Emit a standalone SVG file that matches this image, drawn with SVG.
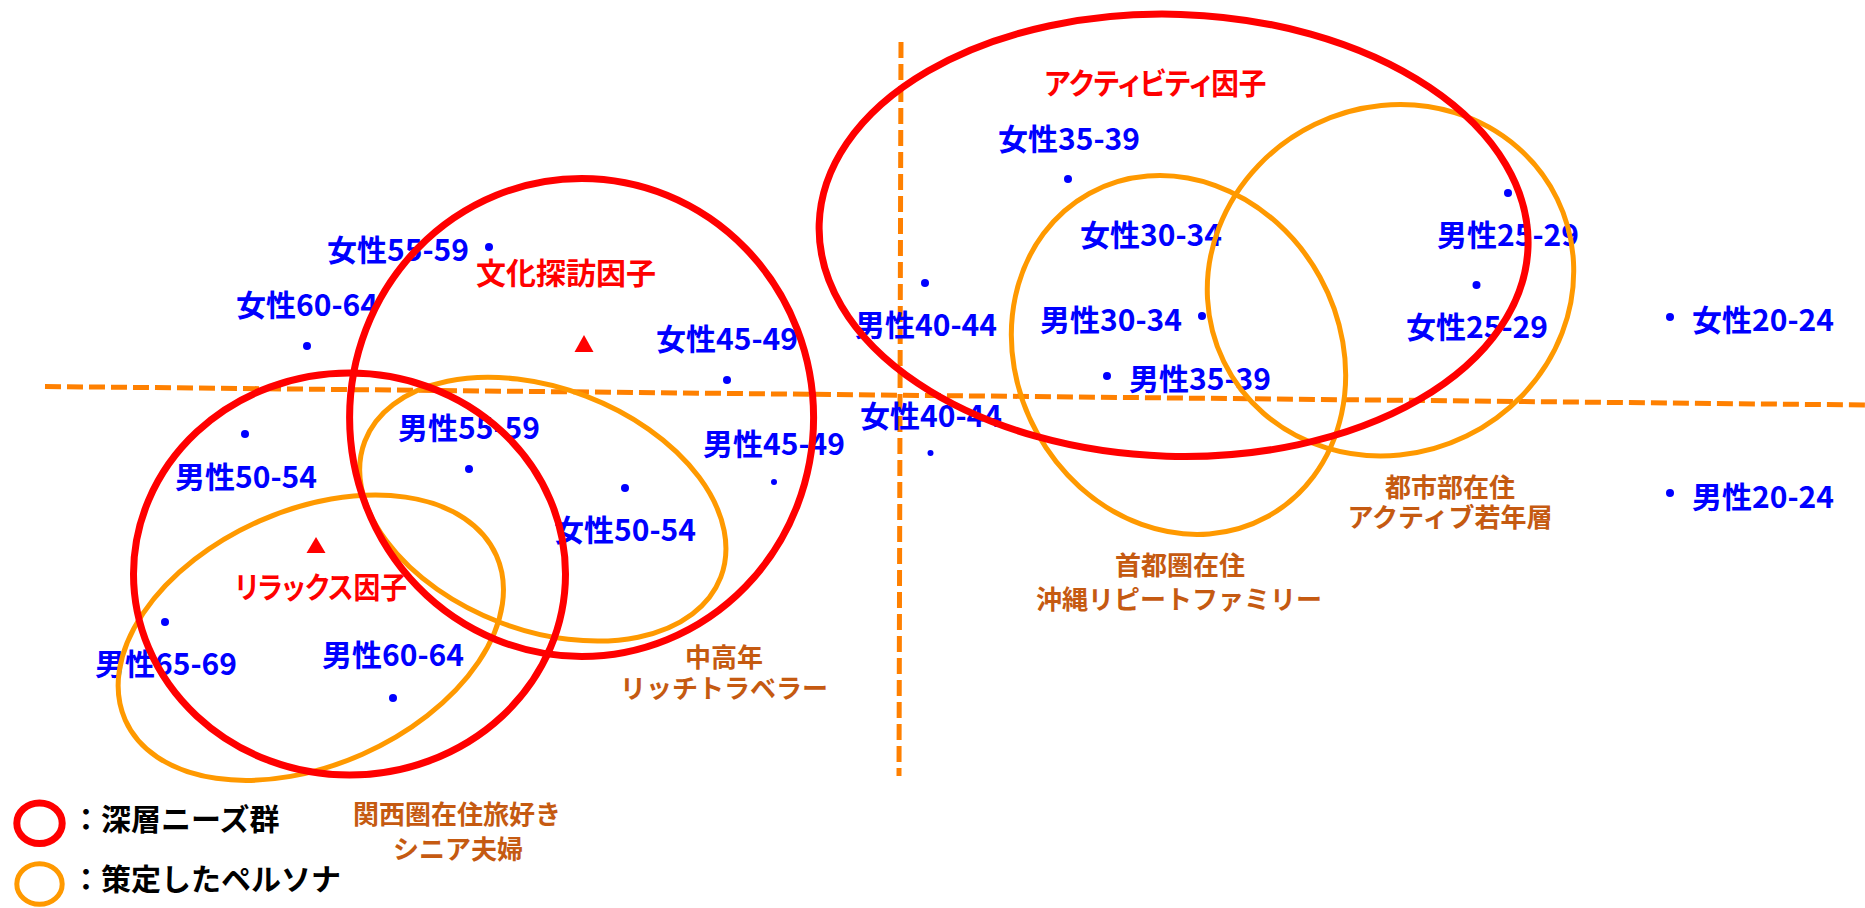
<svg xmlns="http://www.w3.org/2000/svg" width="1865" height="908" viewBox="0 0 1865 908">
<style>
text{font-family:"Noto Sans CJK JP","Noto Sans CJK SC",sans-serif;font-weight:bold}
.lbl{font-size:30px;fill:#0000FF}
.dot{fill:#0000FF}
.fac{font-size:30px;fill:#FF0000;font-feature-settings:"palt";text-anchor:middle}
.per{font-size:26px;fill:#C55A11;text-anchor:middle}
.leg{font-size:30px;fill:#000000}
.need{fill:none;stroke:#FF0000;stroke-width:7}
.pers{fill:none;stroke:#FF9900;stroke-width:5}
.axis{fill:none;stroke:#FF8000;stroke-width:5;stroke-dasharray:16 6}
.tri{fill:#FF0000}
</style>
<rect width="1865" height="908" fill="#FFFFFF"/>
<g id="axes">
<line class="axis" x1="45" y1="386.5" x2="1865" y2="405"/>
<line class="axis" x1="901" y1="42" x2="899" y2="776"/>
</g>
<g id="points">
<g id="f55"><circle class="dot" cx="489" cy="247" r="4"/><text class="lbl" x="398" y="261" text-anchor="middle">女性55-59</text></g>
<g id="f60"><circle class="dot" cx="307" cy="346" r="4"/><text class="lbl" x="307" y="316" text-anchor="middle">女性60-64</text></g>
<g id="m55"><circle class="dot" cx="469" cy="469" r="4"/><text class="lbl" x="469" y="439" text-anchor="middle">男性55-59</text></g>
<g id="m50"><circle class="dot" cx="245" cy="434" r="4"/><text class="lbl" x="246" y="488" text-anchor="middle">男性50-54</text></g>
<g id="m65"><circle class="dot" cx="165" cy="622" r="4"/><text class="lbl" x="166" y="675" text-anchor="middle">男性65-69</text></g>
<g id="m60"><circle class="dot" cx="393" cy="698" r="4"/><text class="lbl" x="393" y="666" text-anchor="middle">男性60-64</text></g>
<g id="f50"><circle class="dot" cx="625" cy="488" r="4"/><text class="lbl" x="625" y="541" text-anchor="middle">女性50-54</text></g>
<g id="f45"><circle class="dot" cx="727" cy="380" r="4"/><text class="lbl" x="727" y="350" text-anchor="middle">女性45-49</text></g>
<g id="m45"><circle class="dot" cx="774" cy="482" r="3"/><text class="lbl" x="774" y="455" text-anchor="middle">男性45-49</text></g>
<g id="f35"><circle class="dot" cx="1068" cy="179" r="4"/><text class="lbl" x="1069" y="150" text-anchor="middle">女性35-39</text></g>
<g id="f30"><text class="lbl" x="1151" y="246" text-anchor="middle">女性30-34</text></g>
<g id="m40"><circle class="dot" cx="925" cy="283" r="4"/><text class="lbl" x="926" y="336" text-anchor="middle">男性40-44</text></g>
<g id="m30"><circle class="dot" cx="1202" cy="316" r="4"/><text class="lbl" x="1182" y="331" text-anchor="end">男性30-34</text></g>
<g id="m35"><circle class="dot" cx="1107" cy="376" r="4"/><text class="lbl" x="1129" y="390">男性35-39</text></g>
<g id="f40"><circle class="dot" cx="930.5" cy="453" r="3"/><text class="lbl" x="931" y="427" text-anchor="middle">女性40-44</text></g>
<g id="m25"><circle class="dot" cx="1508" cy="193" r="4"/><text class="lbl" x="1508" y="246" text-anchor="middle">男性25-29</text></g>
<g id="f25"><circle class="dot" cx="1476.5" cy="285" r="4"/><text class="lbl" x="1477" y="338" text-anchor="middle">女性25-29</text></g>
<g id="f20"><circle class="dot" cx="1670" cy="317" r="4"/><text class="lbl" x="1692" y="331">女性20-24</text></g>
<g id="m20"><circle class="dot" cx="1670" cy="493" r="4"/><text class="lbl" x="1692" y="508">男性20-24</text></g>
</g>
<g id="factors">
<g id="culture-factor"><polygon class="tri" points="584,335 574.5,352 593.5,352"/><text class="fac" x="566" y="284">文化探訪因子</text></g>
<g id="relax-factor"><polygon class="tri" points="316,537 306.5,553 325.5,553"/><text class="fac" x="321" y="598" textLength="172" lengthAdjust="spacingAndGlyphs">リラックス因子</text></g>
<g id="activity-factor"><text class="fac" x="1155.5" y="94" textLength="222" lengthAdjust="spacingAndGlyphs">アクティビティ因子</text></g>
</g>
<g id="personas">
<g id="persona-rich"><ellipse class="pers" cx="542.8" cy="509.2" rx="190.5" ry="121" transform="rotate(20.9 542.8 509.2)"/><text class="per" x="724" y="667">中高年</text><text class="per" x="724" y="698">リッチトラベラー</text></g>
<g id="persona-kansai"><ellipse class="pers" cx="310.8" cy="637.7" rx="203" ry="127.5" transform="rotate(-23.9 310.8 637.7)"/><text class="per" x="457" y="824">関西圏在住旅好き</text><text class="per" x="458" y="859">シニア夫婦</text></g>
<g id="persona-okinawa"><ellipse class="pers" cx="1178.5" cy="355" rx="184.5" ry="161.5" transform="rotate(61.1 1178.5 355)"/><text class="per" x="1180" y="575">首都圏在住</text><text class="per" x="1179" y="609">沖縄リピートファミリー</text></g>
<g id="persona-urban"><ellipse class="pers" cx="1390.5" cy="280.3" rx="185.5" ry="173.3" transform="rotate(-26 1390.5 280.3)"/><text class="per" x="1450" y="497">都市部在住</text><text class="per" x="1450" y="527">アクティブ若年層</text></g>
</g>
<g id="needs">
<ellipse id="need-culture" class="need" cx="581.6" cy="417.5" rx="232" ry="239"/>
<ellipse id="need-relax" class="need" cx="349.5" cy="574" rx="216" ry="201"/>
<ellipse id="need-activity" class="need" cx="1173.6" cy="235.3" rx="354.6" ry="221" transform="rotate(1.85 1173.6 235.3)"/>
</g>
<g id="legend">
<g id="legend-needs"><ellipse class="need" cx="39.5" cy="823.3" rx="22.7" ry="20.3" stroke-width="6"/><text class="leg" x="71" y="830">：深層ニーズ群</text></g>
<g id="legend-persona"><ellipse class="pers" cx="39.5" cy="884" rx="22.7" ry="20.3" stroke-width="6"/><text class="leg" x="71" y="890">：策定したペルソナ</text></g>
</g>
</svg>
